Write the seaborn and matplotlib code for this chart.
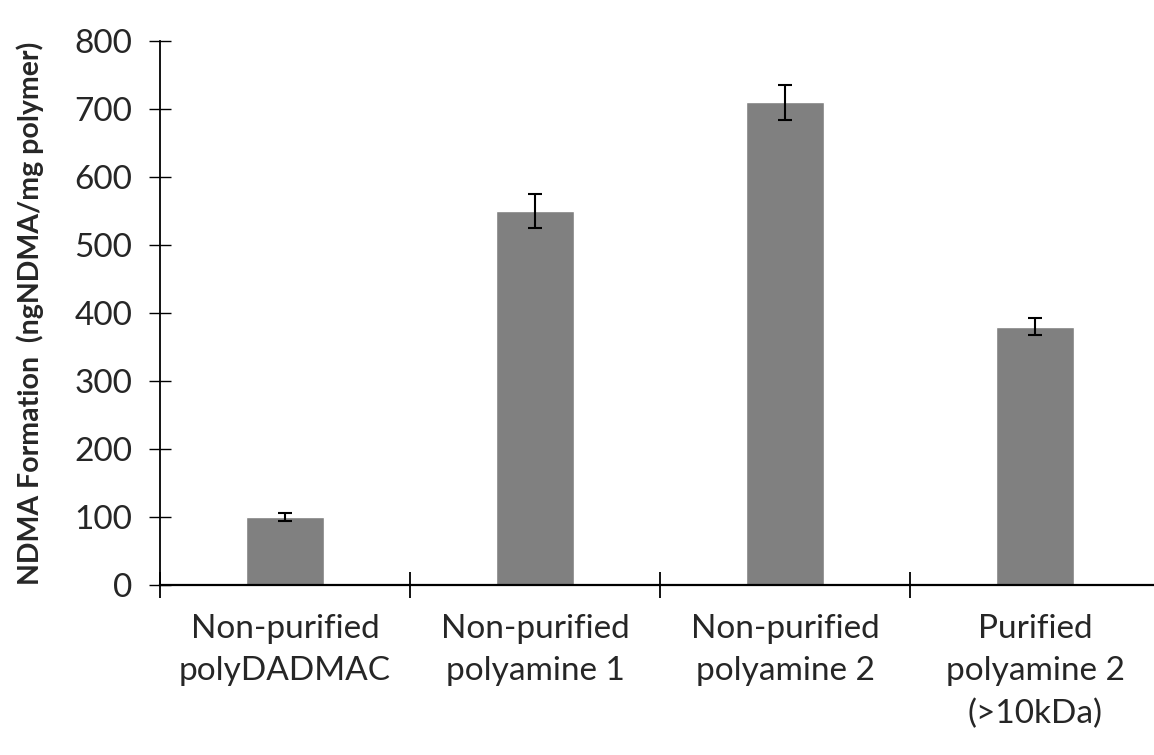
import numpy as np
import pandas as pd
import matplotlib
matplotlib.use("Agg")
import matplotlib.pyplot as plt
import seaborn as sns
from matplotlib.ticker import FixedLocator, MultipleLocator

# Data
categories = [
    "Non-purified\npolyDADMAC",
    "Non-purified\npolyamine 1",
    "Non-purified\npolyamine 2",
    "Purified\npolyamine 2\n(>10kDa)",
]
ndma = [100, 550, 710, 380]
ndma_err = [6, 25, 26, 12]

sns.set_style("white")
plt.rcParams["font.family"] = ["Lato", "DejaVu Sans"]

df = pd.DataFrame({"sample": categories, "ndma": ndma})

fig = plt.figure(figsize=(11.54, 7.55), dpi=100)
ax = fig.add_axes([160 / 1154, 170 / 755, 1000 / 1154, 544 / 755])

sns.barplot(data=df, x="sample", y="ndma", color="#808080", saturation=1,
            width=0.31, errorbar=None, ax=ax)
ax.errorbar(np.arange(len(ndma)), ndma, yerr=ndma_err, fmt="none",
            ecolor="black", elinewidth=1.5, capsize=5, capthick=1.5)

ax.set_xlim(-0.5, 3.5)
ax.set_ylim(0, 800)
ax.yaxis.set_major_locator(MultipleLocator(100))

# category boundaries get the ticks, labels sit at the centers
ax.xaxis.set_major_locator(FixedLocator([-0.5, 0.5, 1.5, 2.5, 3.5]))
ax.xaxis.set_major_formatter(plt.NullFormatter())
ax.xaxis.set_minor_locator(FixedLocator(range(len(categories))))
ax.xaxis.set_minor_formatter(plt.FixedFormatter(categories))
ax.tick_params(axis="x", which="major", bottom=True, direction="inout", length=19,
               width=1.3, color="black")
ax.tick_params(axis="x", which="minor", bottom=True, length=0, pad=21, labelsize=24)
ax.tick_params(axis="y", left=True, direction="inout", length=16, width=1.0, color="black",
               labelsize=24, pad=12)
for lab in ax.xaxis.get_minorticklabels():
    lab.set_linespacing(1.5)
    lab.set_verticalalignment("top")

ax.set_xlabel("")
ax.set_ylabel("NDMA Formation  (ngNDMA/mg polymer)", fontsize=20.5, fontweight="bold", labelpad=22)

for s in ["top", "right"]:
    ax.spines[s].set_visible(False)
ax.spines["left"].set_linewidth(1.3)
ax.spines["bottom"].set_linewidth(1.6)
ax.spines["left"].set_color("black")
ax.spines["bottom"].set_color("black")

fig.savefig("out.png", dpi=100)
